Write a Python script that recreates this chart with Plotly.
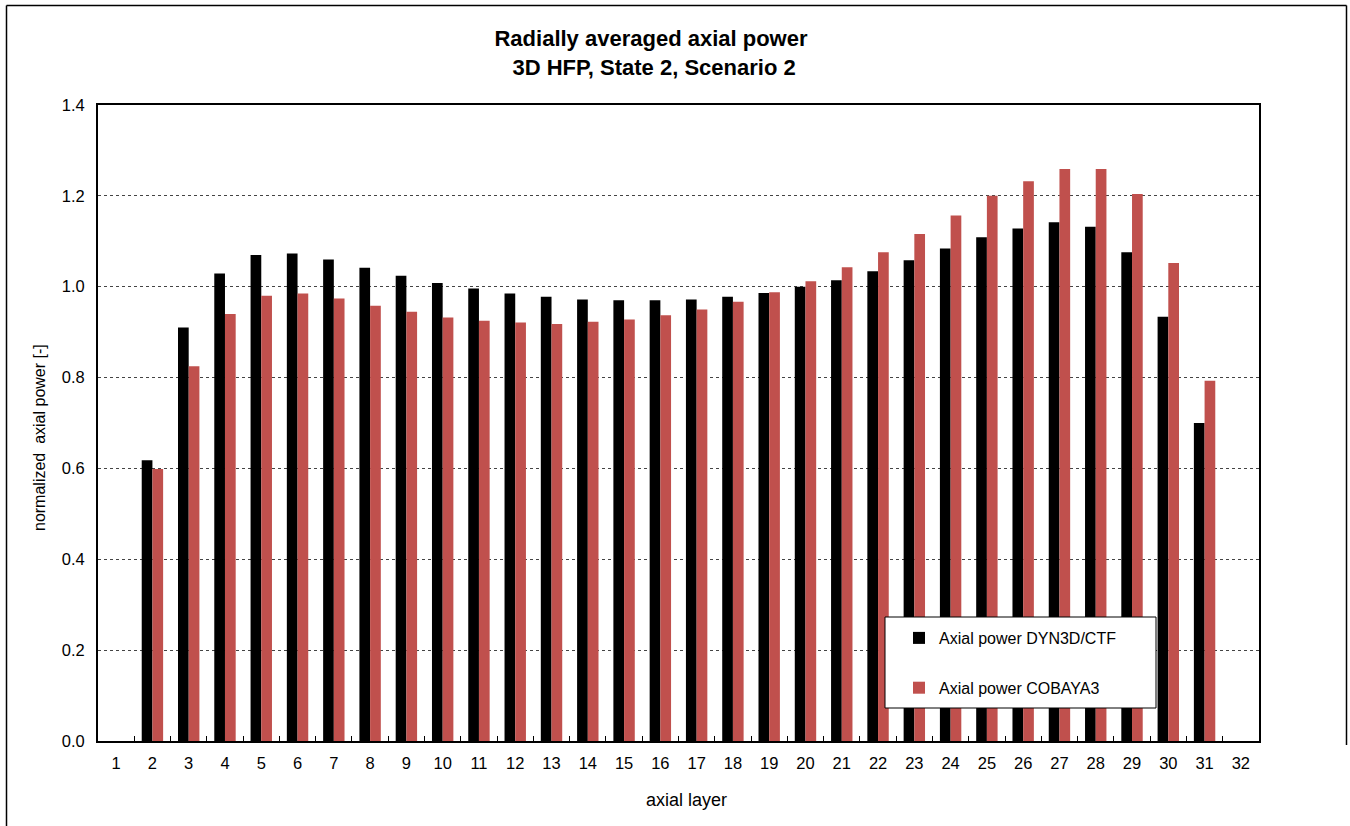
import plotly.graph_objects as go

layers = [str(i) for i in range(1, 33)]
dyn3d_ctf = [None, 0.618, 0.910, 1.029, 1.070, 1.073, 1.060, 1.042, 1.024, 1.008,
             0.996, 0.985, 0.978, 0.972, 0.970, 0.970, 0.972, 0.978, 0.986, 1.000,
             1.014, 1.034, 1.058, 1.084, 1.109, 1.128, 1.142, 1.132, 1.076, 0.934,
             0.700, None]
cobaya3 = [None, 0.599, 0.825, 0.940, 0.980, 0.985, 0.974, 0.958, 0.945, 0.932,
           0.925, 0.921, 0.918, 0.923, 0.928, 0.937, 0.950, 0.967, 0.988, 1.012,
           1.043, 1.076, 1.116, 1.157, 1.200, 1.232, 1.259, 1.259, 1.204, 1.052,
           0.793, None]
y_ticks = [0.0, 0.2, 0.4, 0.6, 0.8, 1.0, 1.2, 1.4]

W, H = 1350, 826
L, R, T, B = 98, 1259, 105, 741

fig = go.Figure()
fig.add_trace(go.Bar(x=layers, y=dyn3d_ctf, name="Axial power DYN3D/CTF",
                     marker=dict(color="#000000", line=dict(width=0)),
                     legendgroup="a"))
fig.add_trace(go.Bar(x=layers, y=cobaya3, name="Axial power COBAYA3",
                     marker=dict(color="#C0504D", line=dict(width=0)),
                     legendgroup="b"))

def px_x(p):
    return (p - L) / (R - L)

def px_y(p):
    return (B - p) / (B - T)

shapes = [
    # legend box
    dict(type="rect", xref="paper", yref="paper",
         x0=px_x(885), x1=px_x(1156), y0=px_y(708), y1=px_y(617),
         fillcolor="white", line=dict(color="black", width=1), layer="above"),
    # outer frame (top, left, right)
    dict(type="line", xref="paper", yref="paper",
         x0=px_x(6.5), x1=px_x(1346.5), y0=px_y(5.5), y1=px_y(5.5),
         line=dict(color="black", width=1.5)),
    dict(type="line", xref="paper", yref="paper",
         x0=px_x(6.5), x1=px_x(6.5), y0=px_y(5.5), y1=px_y(826),
         line=dict(color="black", width=1.5)),
    dict(type="line", xref="paper", yref="paper",
         x0=px_x(1346.5), x1=px_x(1346.5), y0=px_y(5.5), y1=px_y(745),
         line=dict(color="black", width=1.5)),
]

fig.update_layout(
    width=W, height=H,
    margin=dict(l=L, r=W - R, t=T, b=H - B, autoexpand=False),
    paper_bgcolor="white", plot_bgcolor="white",
    font=dict(family="Liberation Sans, Arial, sans-serif", color="black", size=16),
    title=dict(text="Radially averaged axial power<br> 3D HFP, State 2, Scenario 2",
               x=651 / W, xanchor="center", y=1 - 46 / H, yanchor="top",
               xref="container", yref="container",
               font=dict(size=22, family="Liberation Sans, Arial, sans-serif", weight="bold")),
    barmode="group", bargap=0.41, bargroupgap=0.0,
    showlegend=True,
    legend=dict(x=px_x(899), y=px_y(621), xanchor="left", yanchor="top",
                bgcolor="rgba(0,0,0,0)", borderwidth=0,
                font=dict(size=16), tracegroupgap=26, traceorder="grouped"),
    shapes=shapes,
    xaxis=dict(type="category", categoryarray=layers, showgrid=False,
               showline=True, linecolor="black", linewidth=2, mirror=True,
               ticks="inside", tickson="boundaries", ticklen=5, tickcolor="black",
               tickwidth=1, tickfont=dict(size=16.5), ticklabelstandoff=6),
    yaxis=dict(range=[0, 1.4], tickvals=y_ticks, tickformat=".1f",
               showgrid=True, gridcolor="#444444", griddash="dot", gridwidth=1,
               showline=True, linecolor="black", linewidth=2, mirror=True,
               ticks="", tickfont=dict(size=16.5), ticklabelstandoff=8,
               zeroline=False),
    annotations=[
        dict(text="normalized  axial power [-]", xref="paper", yref="paper",
             x=px_x(39), y=px_y(437), textangle=-90, showarrow=False,
             xanchor="center", yanchor="middle", font=dict(size=16)),
        dict(text="axial layer", xref="paper", yref="paper",
             x=px_x(686), y=px_y(800), showarrow=False,
             xanchor="center", yanchor="middle", font=dict(size=18)),
    ],
)

fig.write_html("out.html", config={"displayModeBar": False},
               post_script="document.body.style.margin='0';")
